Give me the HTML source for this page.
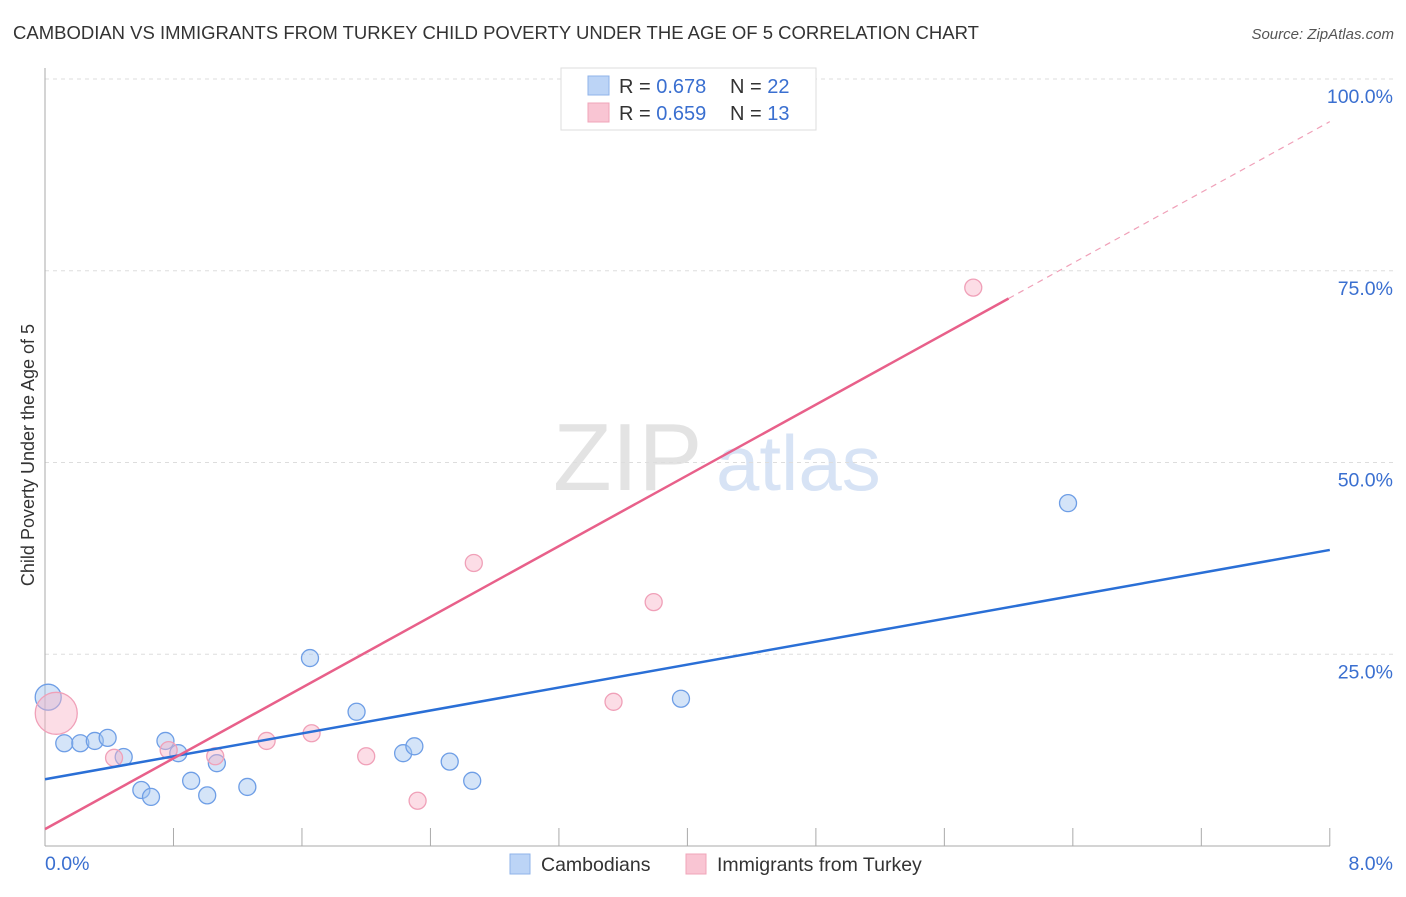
<!DOCTYPE html>
<html><head><meta charset="utf-8"><style>
body{margin:0;background:#fff;font-family:"Liberation Sans",sans-serif;}
svg text{font-family:"Liberation Sans",sans-serif;}
</style></head><body>
<svg id="chart" width="1406" height="892" xmlns="http://www.w3.org/2000/svg">
<text x="13" y="39" font-size="18.5" fill="#333">CAMBODIAN VS IMMIGRANTS FROM TURKEY CHILD POVERTY UNDER THE AGE OF 5 CORRELATION CHART</text>
<text x="1394" y="39" font-size="15" fill="#555" text-anchor="end" font-style="italic">Source: ZipAtlas.com</text>
<text transform="translate(34,455) rotate(-90)" font-size="18" fill="#333" text-anchor="middle">Child Poverty Under the Age of 5</text>
<text x="553" y="490" font-size="96" fill="#e3e3e3" font-family="Liberation Serif" >ZIP</text>
<text x="716" y="490" font-size="78" fill="#d7e3f5">atlas</text>
<g id="grid"></g><g id="axes"></g><g id="marks"></g>
<g>
<rect x="561" y="68" width="255" height="62" fill="#fff" stroke="#ddd"/>
<rect x="588" y="76" width="21" height="19" fill="#bcd4f6" stroke="#8fb3ea"/>
<text x="619" y="93" font-size="20" fill="#333">R = <tspan fill="#3a6fd0">0.678</tspan></text>
<text x="730" y="93" font-size="20" fill="#333">N = <tspan fill="#3a6fd0">22</tspan></text>
<rect x="588" y="103" width="21" height="19" fill="#f9c5d3" stroke="#f0a5ba"/>
<text x="619" y="120" font-size="20" fill="#333">R = <tspan fill="#3a6fd0">0.659</tspan></text>
<text x="730" y="120" font-size="20" fill="#333">N =  <tspan fill="#3a6fd0">13</tspan></text>
</g>
<g>
<rect x="510" y="854" width="20" height="20" fill="#bcd4f6" stroke="#8fb3ea"/>
<text x="541" y="871" font-size="19.5" fill="#333">Cambodians</text>
<rect x="686" y="854" width="20" height="20" fill="#f9c5d3" stroke="#f0a5ba"/>
<text x="717" y="871" font-size="19.5" fill="#333">Immigrants from Turkey</text>
</g>
</svg>
<script>
const blueX=[0.02,0.12,0.22,0.31,0.39,0.49,0.60,0.66,0.75,0.83,0.91,1.01,1.07,1.26,1.65,1.94,2.23,2.30,2.52,2.66,3.96,6.37];
const blueY=[19.4,13.4,13.4,13.7,14.1,11.6,7.3,6.4,13.7,12.1,8.5,6.6,10.8,7.7,24.5,17.5,12.1,13.0,11.0,8.5,19.2,44.7];
const pinkX=[0.07,0.43,0.77,1.06,1.38,1.66,2.00,2.32,2.67,3.54,3.79,5.78,3.34];
const pinkY=[17.3,11.5,12.5,11.7,13.7,14.7,11.7,5.9,36.9,18.8,31.8,72.8,100];
const blueTrend=[8.7,38.6];      // value at x=0 and x=8
const pinkTrend=[2.2,11.53];     // intercept, slope per %
const yTicks=[25,50,75,100];
const yTickLabels=["25.0%","50.0%","75.0%","100.0%"];
const xTicks=[0,0.8,1.6,2.4,3.2,4.0,4.8,5.6,6.4,7.2,8.0];
const NS="http://www.w3.org/2000/svg";
const X=v=>45+v*160.6, Y=v=>846-v*7.67;
function mk(p,t,a){const e=document.createElementNS(NS,t);for(const k in a)e.setAttribute(k,a[k]);p.appendChild(e);return e;}
const grid=document.getElementById('grid'),axes=document.getElementById('axes'),marks=document.getElementById('marks');
yTicks.forEach((v,i)=>{
 const l=mk(grid,'line',{x1:45,x2:1393,y1:Y(v),y2:Y(v),stroke:'#ddd','stroke-dasharray':'4,4'});
 
 
 const t=mk(axes,'text',{x:1393,y:Y(v)+24,'font-size':19.5,fill:'#3a6fd0','text-anchor':'end'});
 t.textContent=yTickLabels[i];
 
 
});
const xa=mk(axes,'line',{x1:45,x2:1330,y1:846,y2:846,stroke:'#aaa'});


const ya=mk(axes,'line',{x1:45,x2:45,y1:68,y2:846,stroke:'#aaa'});


xTicks.forEach(v=>{if(v===0)return;
 const t=mk(axes,'line',{x1:X(v),x2:X(v),y1:828,y2:846,stroke:'#aaa'});
 
 
});
const x0=mk(axes,'text',{x:45,y:870,'font-size':19.5,fill:'#3a6fd0'});x0.textContent='0.0%';


const x8=mk(axes,'text',{x:1393,y:870,'font-size':19.5,fill:'#3a6fd0','text-anchor':'end'});x8.textContent='8.0%';


blueX.forEach((v,i)=>{
 const c=mk(marks,'circle',{cx:X(v),cy:Y(blueY[i]),r:i===0?13:8.5,fill:'rgba(160,195,240,0.45)',stroke:'#6e9ee6','stroke-width':1.3});
 
 
});
pinkX.forEach((v,i)=>{
 const c=mk(marks,'circle',{cx:X(v),cy:Y(pinkY[i]),r:i===0?21:8.5,fill:'rgba(248,180,200,0.45)',stroke:'#f0a0b8','stroke-width':1.3});
 
 
});
const bl=mk(marks,'line',{x1:X(0),y1:Y(blueTrend[0]),x2:X(8),y2:Y(blueTrend[1]),stroke:'#2a6fd6','stroke-width':2.5});


const pe=6.0;
const pl=mk(marks,'line',{x1:X(0),y1:Y(pinkTrend[0]),x2:X(pe),y2:Y(pinkTrend[0]+pinkTrend[1]*pe),stroke:'#e8608a','stroke-width':2.5});


const pd=mk(marks,'line',{x1:X(pe),y1:Y(pinkTrend[0]+pinkTrend[1]*pe),x2:X(8),y2:Y(pinkTrend[0]+pinkTrend[1]*8),stroke:'#f0a0b8','stroke-width':1.2,'stroke-dasharray':'6,5'});


</script>
</body></html>
